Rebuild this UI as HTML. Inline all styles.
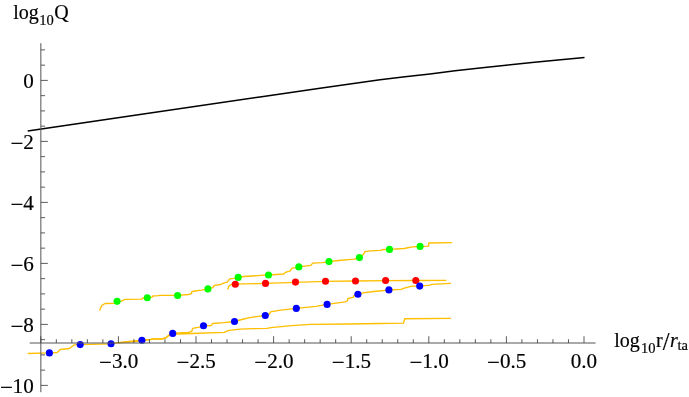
<!DOCTYPE html>
<html><head><meta charset="utf-8"><title>plot</title>
<style>html,body{margin:0;padding:0;background:#fff;overflow:hidden}body{width:689px;height:397px;font-family:"Liberation Serif",serif}</style></head>
<body>
<svg width="689" height="397" viewBox="0 0 689 397" style="display:block">
<rect width="689" height="397" fill="#fff"/>
<g stroke="#ffbf00" stroke-width="1.35" fill="none" stroke-linejoin="round">
<path d="M118.4,342.8 L133.2,341.5 L141.9,340.5 L150.5,339.5 L153.5,339.0 L161.7,339.0 L165.7,338.0 L168.8,335.5 L172.7,334.0 L177.0,334.0 L192.0,333.5 L224.2,332.3 L229.0,330.3 L240.3,329.2 L253.2,328.7 L266.9,328.4 L271.0,327.6 L288.7,325.8 L310.0,324.4 L348.4,324.0 L380.0,323.5 L403.4,323.2 L404.7,318.7 L451.0,318.4"/>
<path d="M27.7,353.5 L49.4,352.9 L57.2,352.5 L60.3,349.5 L69.3,348.5 L74.4,344.8 L80.2,344.6 L111.0,343.8 L118.4,342.6 L133.7,341.0 L141.9,340.3 L150.5,339.3 L153.5,338.8 L161.7,338.8 L165.7,337.8 L168.8,335.2 L172.7,333.4 L177.3,332.9 L188.5,332.4 L191.8,331.3 L192.6,328.4 L198.2,327.3 L203.5,325.8 L211.3,325.5 L212.6,323.5 L224.2,322.7 L234.5,321.5 L241.9,319.5 L248.4,317.9 L256.5,316.6 L265.3,315.5 L269.4,314.2 L270.5,311.8 L280.6,310.2 L296.3,308.4 L316.1,306.3 L327.1,304.4 L345.2,301.9 L347.6,300.6 L347.9,298.5 L353.2,297.4 L354.0,295.5 L357.9,294.2 L364.5,292.6 L374.2,291.5 L388.9,290.0 L401.0,289.4 L404.2,288.1 L409.0,286.8 L412.3,286.1 L419.7,286.1 L430.0,285.2 L431.6,284.4 L451.0,283.4"/>
<path d="M99.6,310.4 L101.6,305.8 L103.3,304.5 L105.2,303.5 L113.7,303.4 L116.0,302.4 L120.9,301.3 L125.0,299.4 L141.7,299.2 L142.8,298.0 L147.3,297.8 L151.9,297.2 L152.9,296.0 L158.0,295.7 L160.0,295.3 L174.0,295.4 L177.6,295.3 L188.5,294.5 L191.5,293.7 L191.8,291.6 L195.0,291.0 L201.5,290.2 L207.9,288.9 L212.7,287.7 L214.4,285.3 L220.8,284.5 L224.0,282.9 L227.3,282.1 L229.7,278.9 L233.7,278.4 L238.2,277.4 L243.4,276.5 L264.4,275.2 L268.5,275.0 L283.7,274.0 L285.3,272.4 L290.2,270.8 L291.8,268.4 L298.7,266.9 L311.0,265.3 L312.6,263.2 L322.3,262.6 L329.0,261.6 L338.4,260.5 L354.5,259.2 L359.4,257.6 L363.4,254.5 L365.0,251.6 L370.6,250.8 L380.3,250.3 L383.5,249.5 L389.5,249.4 L404.2,248.5 L412.3,246.9 L420.1,246.5 L428.5,246.2 L428.8,243.0 L452.1,242.7"/>
<path d="M227.7,289.4 L228.9,286.1 L231.3,284.5 L235.3,284.2 L265.5,283.4 L295.5,282.3 L325.5,281.3 L355.5,281.0 L385.6,280.6 L415.8,280.5 L446.5,280.3"/>
</g>
<path d="M27.7,131.1 L140.0,114.6 L260.0,96.9 L320.0,88.2 L380.0,79.8 L405.0,76.7 L430.0,73.9 L455.0,70.8 L480.0,67.9 L506.0,65.2 L532.0,62.6 L558.0,60.1 L584.5,57.6" stroke="#000" stroke-width="1.55" fill="none"/>
<circle cx="117.1" cy="301.35" r="3.55" fill="#00ff00"/>
<circle cx="147.3" cy="297.70" r="3.55" fill="#00ff00"/>
<circle cx="177.6" cy="295.50" r="3.55" fill="#00ff00"/>
<circle cx="207.9" cy="288.90" r="3.55" fill="#00ff00"/>
<circle cx="238.2" cy="277.40" r="3.55" fill="#00ff00"/>
<circle cx="268.5" cy="275.00" r="3.55" fill="#00ff00"/>
<circle cx="298.8" cy="266.90" r="3.55" fill="#00ff00"/>
<circle cx="329.0" cy="261.60" r="3.55" fill="#00ff00"/>
<circle cx="359.4" cy="257.60" r="3.55" fill="#00ff00"/>
<circle cx="389.5" cy="249.40" r="3.55" fill="#00ff00"/>
<circle cx="420.1" cy="246.40" r="3.55" fill="#00ff00"/>
<circle cx="235.3" cy="284.20" r="3.55" fill="#ff0000"/>
<circle cx="265.5" cy="283.40" r="3.55" fill="#ff0000"/>
<circle cx="295.5" cy="282.10" r="3.55" fill="#ff0000"/>
<circle cx="325.5" cy="281.30" r="3.55" fill="#ff0000"/>
<circle cx="355.5" cy="281.00" r="3.55" fill="#ff0000"/>
<circle cx="385.6" cy="280.55" r="3.55" fill="#ff0000"/>
<circle cx="415.8" cy="280.50" r="3.55" fill="#ff0000"/>
<circle cx="49.4" cy="352.90" r="3.55" fill="#0000ff"/>
<circle cx="80.2" cy="344.60" r="3.55" fill="#0000ff"/>
<circle cx="111.0" cy="343.80" r="3.55" fill="#0000ff"/>
<circle cx="141.9" cy="340.30" r="3.55" fill="#0000ff"/>
<circle cx="172.7" cy="333.40" r="3.55" fill="#0000ff"/>
<circle cx="203.5" cy="325.80" r="3.55" fill="#0000ff"/>
<circle cx="234.5" cy="321.50" r="3.55" fill="#0000ff"/>
<circle cx="265.3" cy="315.50" r="3.55" fill="#0000ff"/>
<circle cx="296.3" cy="308.40" r="3.55" fill="#0000ff"/>
<circle cx="327.1" cy="304.40" r="3.55" fill="#0000ff"/>
<circle cx="357.9" cy="294.20" r="3.55" fill="#0000ff"/>
<circle cx="388.9" cy="289.90" r="3.55" fill="#0000ff"/>
<circle cx="419.7" cy="286.10" r="3.55" fill="#0000ff"/>
<g stroke="#555555" stroke-width="1" fill="none">
<path d="M40.85,43.2 V392.2"/>
<path d="M29.7,343.0 H595.6"/>
</g>
<g stroke="#404040" stroke-width="0.85" fill="none">
<path d="M40.85,385.40 h7.0"/>
<path d="M40.85,370.15 h4.2"/>
<path d="M40.85,354.90 h4.2"/>
<path d="M40.85,339.65 h4.2"/>
<path d="M40.85,324.40 h7.0"/>
<path d="M40.85,309.15 h4.2"/>
<path d="M40.85,293.90 h4.2"/>
<path d="M40.85,278.65 h4.2"/>
<path d="M40.85,263.40 h7.0"/>
<path d="M40.85,248.15 h4.2"/>
<path d="M40.85,232.90 h4.2"/>
<path d="M40.85,217.65 h4.2"/>
<path d="M40.85,202.40 h7.0"/>
<path d="M40.85,187.15 h4.2"/>
<path d="M40.85,171.90 h4.2"/>
<path d="M40.85,156.65 h4.2"/>
<path d="M40.85,141.40 h7.0"/>
<path d="M40.85,126.15 h4.2"/>
<path d="M40.85,110.90 h4.2"/>
<path d="M40.85,95.65 h4.2"/>
<path d="M40.85,80.40 h7.0"/>
<path d="M40.85,65.15 h4.2"/>
<path d="M40.85,49.90 h4.2"/>
<path d="M40.80,343.0 v-6.8"/>
<path d="M56.32,343.0 v-3.8"/>
<path d="M71.84,343.0 v-3.8"/>
<path d="M87.36,343.0 v-3.8"/>
<path d="M102.88,343.0 v-3.8"/>
<path d="M118.40,343.0 v-6.8"/>
<path d="M133.92,343.0 v-3.8"/>
<path d="M149.44,343.0 v-3.8"/>
<path d="M164.96,343.0 v-3.8"/>
<path d="M180.48,343.0 v-3.8"/>
<path d="M196.00,343.0 v-6.8"/>
<path d="M211.52,343.0 v-3.8"/>
<path d="M227.04,343.0 v-3.8"/>
<path d="M242.56,343.0 v-3.8"/>
<path d="M258.08,343.0 v-3.8"/>
<path d="M273.60,343.0 v-6.8"/>
<path d="M289.12,343.0 v-3.8"/>
<path d="M304.64,343.0 v-3.8"/>
<path d="M320.16,343.0 v-3.8"/>
<path d="M335.68,343.0 v-3.8"/>
<path d="M351.20,343.0 v-6.8"/>
<path d="M366.72,343.0 v-3.8"/>
<path d="M382.24,343.0 v-3.8"/>
<path d="M397.76,343.0 v-3.8"/>
<path d="M413.28,343.0 v-3.8"/>
<path d="M428.80,343.0 v-6.8"/>
<path d="M444.32,343.0 v-3.8"/>
<path d="M459.84,343.0 v-3.8"/>
<path d="M475.36,343.0 v-3.8"/>
<path d="M490.88,343.0 v-3.8"/>
<path d="M506.40,343.0 v-6.8"/>
<path d="M521.92,343.0 v-3.8"/>
<path d="M537.44,343.0 v-3.8"/>
<path d="M552.96,343.0 v-3.8"/>
<path d="M568.48,343.0 v-3.8"/>
<path d="M584.00,343.0 v-6.8"/>
</g>
<g font-family="'Liberation Serif', serif" font-size="20px" fill="#000" stroke="#000" stroke-width="0.18" style="filter:grayscale(1)">
<text transform="translate(33.7,87.6) scale(1.055,1.045)" text-anchor="end">0</text>
<text transform="translate(33.7,148.6) scale(1.055,1.045)" text-anchor="end">2</text>
<text transform="translate(10.51,149.80) scale(1.140,1)">−</text>
<text transform="translate(33.7,209.6) scale(1.055,1.045)" text-anchor="end">4</text>
<text transform="translate(10.51,210.80) scale(1.140,1)">−</text>
<text transform="translate(33.7,270.6) scale(1.055,1.045)" text-anchor="end">6</text>
<text transform="translate(10.51,271.80) scale(1.140,1)">−</text>
<text transform="translate(33.7,331.6) scale(1.055,1.045)" text-anchor="end">8</text>
<text transform="translate(10.51,332.80) scale(1.140,1)">−</text>
<text transform="translate(33.7,392.6) scale(1.055,1.045)" text-anchor="end">10</text>
<text transform="translate(-0.04,393.80) scale(1.140,1)">−</text>
<text transform="translate(111.95,368.2) scale(1.055,1.045)">3.0</text>
<text transform="translate(99.01,369.40) scale(1.140,1)">−</text>
<text transform="translate(189.55,368.2) scale(1.055,1.045)">2.5</text>
<text transform="translate(176.61,369.40) scale(1.140,1)">−</text>
<text transform="translate(267.15,368.2) scale(1.055,1.045)">2.0</text>
<text transform="translate(254.21,369.40) scale(1.140,1)">−</text>
<text transform="translate(344.75,368.2) scale(1.055,1.045)">1.5</text>
<text transform="translate(331.81,369.40) scale(1.140,1)">−</text>
<text transform="translate(422.35,368.2) scale(1.055,1.045)">1.0</text>
<text transform="translate(409.41,369.40) scale(1.140,1)">−</text>
<text transform="translate(499.95,368.2) scale(1.055,1.045)">0.5</text>
<text transform="translate(487.01,369.40) scale(1.140,1)">−</text>
<text transform="translate(570.65,368.2) scale(1.055,1.045)">0.0</text>
<text x="13.2" y="19.0">log</text>
<text x="39.3" y="25.0" font-size="14.5px">10</text>
<text x="54.3" y="19.0">Q</text>
<text x="614.2" y="346.9">log</text>
<text x="640.9" y="352.6" font-size="14.5px">10</text>
<text x="656.0" y="346.9">r</text>
<text x="662.7" y="350.4" font-size="24.5px">/</text>
<text x="669.9" y="346.9" font-style="italic">r</text>
<text x="677.5" y="350.0" font-size="14.5px">ta</text>
</g>
</svg>
</body></html>
